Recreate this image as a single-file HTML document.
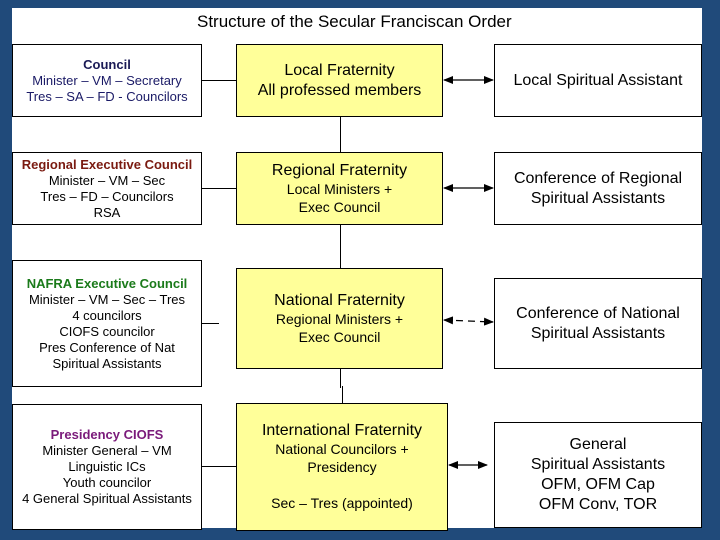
<!DOCTYPE html>
<html><head><style>
body{margin:0;width:720px;height:540px;background:#204a7a;position:relative;overflow:hidden;font-family:"Liberation Sans",sans-serif}
#w{position:absolute;left:12px;top:8px;width:690px;height:520px;background:#fff}
.b{position:absolute;box-sizing:border-box;border:1px solid #000;background:#fff;display:flex;flex-direction:column;justify-content:center;align-items:center;text-align:center;color:#000;font-size:13px;line-height:16px}
.y{background:#ffff99;font-size:14px;line-height:18px}
.y .t{font-size:16px}
.r{font-size:16px;line-height:20px}
.l{position:absolute;background:#000}
</style></head><body>
<div id="w"></div>
<div style="position:absolute;left:197px;top:12px;font-size:17px;color:#000">Structure of the Secular Franciscan Order</div>

<div class="l" style="left:340px;top:44px;width:1px;height:344px"></div>
<div class="l" style="left:342px;top:386px;width:1px;height:18px"></div>
<div class="l" style="left:201px;top:80px;width:35px;height:1px"></div>
<div class="l" style="left:201px;top:188px;width:35px;height:1px"></div>
<div class="l" style="left:201px;top:323px;width:18px;height:1px"></div>
<div class="l" style="left:201px;top:466px;width:35px;height:1px"></div>

<div class="b" style="left:12px;top:44px;width:190px;height:73px;color:#1a1a66"><b style="color:#1a1a55">Council</b>Minister – VM – Secretary<br>Tres – SA – FD - Councilors</div>
<div class="b" style="left:12px;top:152px;width:190px;height:73px"><b style="color:#7a1a10">Regional Executive Council</b>Minister – VM – Sec<br>Tres – FD – Councilors<br>RSA</div>
<div class="b" style="left:12px;top:260px;width:190px;height:127px"><b style="color:#1a7a1a">NAFRA Executive Council</b>Minister – VM – Sec – Tres<br>4 councilors<br>CIOFS councilor<br>Pres Conference of Nat<br>Spiritual Assistants</div>
<div class="b" style="left:12px;top:404px;width:190px;height:126px"><b style="color:#7a1a7a">Presidency CIOFS</b>Minister General – VM<br>Linguistic ICs<br>Youth councilor<br>4 General Spiritual Assistants</div>

<div class="b y" style="left:236px;top:44px;width:207px;height:73px;font-size:16px;line-height:20px">Local Fraternity<br>All professed members</div>
<div class="b y" style="left:236px;top:152px;width:207px;height:73px"><span class="t">Regional Fraternity</span>Local Ministers +<br>Exec Council</div>
<div class="b y" style="left:236px;top:268px;width:207px;height:101px"><span class="t">National Fraternity</span>Regional Ministers +<br>Exec Council</div>
<div class="b y" style="left:236px;top:403px;width:212px;height:128px"><span class="t">International Fraternity</span>National Councilors +<br>Presidency<br><br>Sec – Tres (appointed)</div>

<div class="b r" style="left:494px;top:44px;width:208px;height:73px">Local Spiritual Assistant</div>
<div class="b r" style="left:494px;top:152px;width:208px;height:73px">Conference of Regional<br>Spiritual Assistants</div>
<div class="b r" style="left:494px;top:278px;width:208px;height:91px">Conference of National<br>Spiritual Assistants</div>
<div class="b r" style="left:494px;top:422px;width:208px;height:106px">General<br>Spiritual Assistants<br>OFM, OFM Cap<br>OFM Conv, TOR</div>

<svg style="position:absolute;left:0;top:0" width="720" height="540">
<defs><marker id="a" markerWidth="10" markerHeight="8" refX="9" refY="4" markerUnits="userSpaceOnUse" orient="auto-start-reverse"><path d="M0,0L10,4L0,8z" fill="#000"/></marker></defs>
<line x1="444" y1="80" x2="493" y2="80" stroke="#000" stroke-width="1.3" marker-start="url(#a)" marker-end="url(#a)"/>
<line x1="444" y1="188" x2="493" y2="188" stroke="#000" stroke-width="1.3" marker-start="url(#a)" marker-end="url(#a)"/>
<line x1="444" y1="320" x2="493" y2="322" stroke="#000" stroke-width="1.3" stroke-dasharray="7,5" marker-start="url(#a)" marker-end="url(#a)"/>
<line x1="449" y1="465" x2="487" y2="465" stroke="#000" stroke-width="1.3" marker-start="url(#a)" marker-end="url(#a)"/>
</svg>
</body></html>
